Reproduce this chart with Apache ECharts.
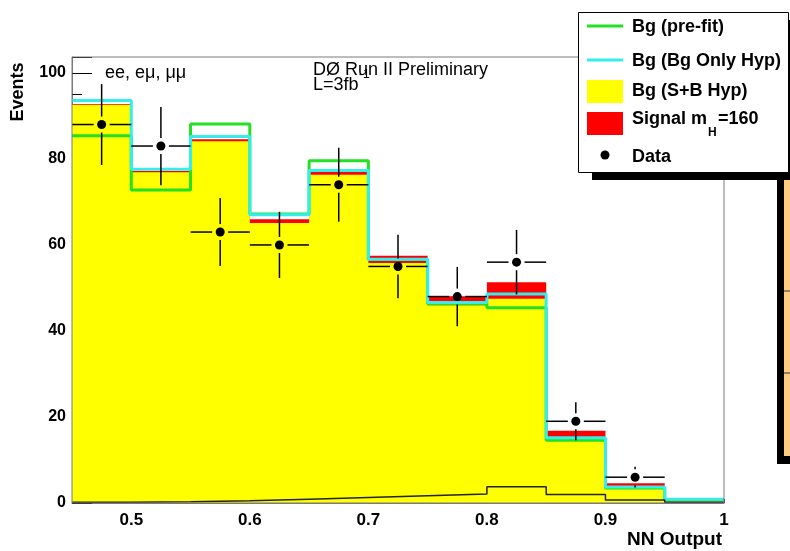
<!DOCTYPE html>
<html>
<head>
<meta charset="utf-8">
<script src="https://cdn.jsdelivr.net/npm/echarts@6/dist/echarts.min.js"></script>
<style>
html,body{margin:0;padding:0;background:#fff;}
#chart{width:790px;height:551px;}
</style>
</head>
<body>
<div id="chart"></div>
<script>
// ---- data ----
const binEdges = [0.45, 0.50, 0.55, 0.60, 0.65, 0.70, 0.75, 0.80, 0.85, 0.90, 0.95, 1.00];
const bgPrefit = [85.4, 72.8, 88.1, 67.2, 79.6, 56.6, 46.3, 45.4, 14.6, 3.5, 0.7];
const bgOnly   = [93.6, 77.6, 85.2, 67.0, 77.3, 56.7, 46.6, 48.6, 15.2, 3.7, 0.85];
const bgSB     = [92.6, 76.9, 84.1, 65.1, 76.3, 55.8, 46.0, 47.5, 14.8, 3.9, 0.5];
const signal   = [0.2, 0.3, 0.5, 0.9, 1.3, 1.7, 2.1, 3.8, 2.0, 0.7, 0.2];
const dataVals = [88, 83, 63, 60, 74, 55, 48, 56, 19, 6];
const dataErr  = [9.4, 9.1, 7.9, 7.7, 8.6, 7.4, 6.9, 7.5, 4.4, 2.4];
const yTicks   = [0, 20, 40, 60, 80, 100];
const xTicks   = ['0.5', '0.6', '0.7', '0.8', '0.9', '1'];
const legendLabels = ['Bg (pre-fit)', 'Bg (Bg Only Hyp)', 'Bg (S+B Hyp)', 'Signal m', 'Data'];

const FONT = 'Liberation Sans, Arial, Helvetica, sans-serif';

function stepData(vals) {
  const pts = vals.map((v, i) => [binEdges[i], v]);
  pts.push([binEdges[vals.length], vals[vals.length - 1]]);
  return pts;
}
const sigTop = bgSB.map((v, i) => v + signal[i]);

const chart = echarts.init(document.getElementById('chart'), null, {renderer: 'canvas'});

const option = {
  animation: false,
  backgroundColor: '#ffffff',
  grid: {
    left: 72, right: 66, top: 57, bottom: 48,
    show: true, borderColor: '#7a7a7a', borderWidth: 1,
    backgroundColor: 'transparent', z: 5
  },
  xAxis: {
    type: 'value', min: 0.45, max: 1.0, interval: 0.05,
    axisLine: {show: true, lineStyle: {color: '#7a7a7a', width: 1}},
    axisTick: {show: true, inside: true, length: 4, lineStyle: {color: '#333'}},
    splitLine: {show: false},
    axisLabel: {
      color: '#000', fontFamily: FONT, fontWeight: 'bold', fontSize: 17, margin: 9,
      showMinLabel: true, showMaxLabel: true,
      formatter: function (v) {
        const s = String(+(+v).toFixed(2));
        return xTicks.indexOf(s) >= 0 ? s : '';
      }
    }
  },
  yAxis: {
    type: 'value', min: 0, max: 103.7, interval: 20,
    axisLine: {show: true, lineStyle: {color: '#7a7a7a', width: 1}},
    axisTick: {show: true, inside: true, length: 20, lineStyle: {color: '#000'}},
    minorTick: {show: true, splitNumber: 4, length: 10, lineStyle: {color: '#000'}},
    splitLine: {show: false},
    axisLabel: {
      color: '#000', fontFamily: FONT, fontWeight: 'bold', fontSize: 16, margin: 6,
      formatter: function (v) {
        const r = Math.round(v);
        return (Math.abs(v - r) < 1e-6 && yTicks.indexOf(r) >= 0) ? String(r) : '';
      }
    }
  },
  series: [
    {
      name: 'Signal', type: 'line', step: 'end', data: stepData(sigTop),
      symbol: 'none', lineStyle: {width: 0, color: '#ff0000'},
      areaStyle: {color: '#ff0000', opacity: 1}, z: 2, silent: true
    },
    {
      name: 'Bg (S+B Hyp)', type: 'line', step: 'end', data: stepData(bgSB),
      symbol: 'none', lineStyle: {width: 0, color: '#ffff00'},
      areaStyle: {color: '#ffff00', opacity: 1}, z: 2, silent: true
    },
    {
      name: 'Bg (pre-fit)', type: 'line', step: 'end', data: stepData(bgPrefit),
      symbol: 'none', lineStyle: {width: 3, color: '#22e022'}, z: 3, silent: true
    },
    {
      name: 'Bg (Bg Only Hyp)', type: 'line', step: 'end', data: stepData(bgOnly),
      symbol: 'none', lineStyle: {width: 3, color: '#33eeee'}, z: 3, silent: true
    },
    {
      name: 'Signal line', type: 'line', step: 'end', data: stepData(signal),
      symbol: 'none', lineStyle: {width: 1.5, color: '#222'}, z: 3, silent: true
    },
    {
      name: 'Data', type: 'custom', z: 4, silent: true,
      data: dataVals.map((v, i) => [(binEdges[i] + binEdges[i + 1]) / 2, v, dataErr[i], i]),
      renderItem: function (params, api) {
        const x = api.value(0), y = api.value(1), e = api.value(2), i = api.value(3);
        const c = api.coord([x, y]);
        const l = api.coord([binEdges[i], y]);
        const r = api.coord([binEdges[i + 1], y]);
        const t = api.coord([x, y + e]);
        const b = api.coord([x, y - e]);
        const gap = 8;
        const st = {stroke: '#000', lineWidth: 1.5};
        return {
          type: 'group',
          children: [
            {type: 'line', shape: {x1: l[0], y1: c[1], x2: c[0] - gap, y2: c[1]}, style: st},
            {type: 'line', shape: {x1: c[0] + gap, y1: c[1], x2: r[0], y2: c[1]}, style: st},
            {type: 'line', shape: {x1: c[0], y1: t[1], x2: c[0], y2: c[1] - gap}, style: st},
            {type: 'line', shape: {x1: c[0], y1: c[1] + gap, x2: c[0], y2: b[1]}, style: st},
            {type: 'circle', shape: {cx: c[0], cy: c[1], r: 4.5}, style: {fill: '#000'}}
          ]
        };
      }
    }
  ],
  graphic: [
    // axis titles and annotations
    {type: 'text', x: 18, y: 92, rotation: Math.PI / 2, z: 10,
      style: {text: 'Events', fill: '#000', font: 'bold 18px ' + FONT, align: 'center', verticalAlign: 'middle'}},
    {type: 'text', x: 722, y: 540, z: 10,
      style: {text: 'NN Output', fill: '#000', font: 'bold 19px ' + FONT, align: 'right', verticalAlign: 'middle'}},
    {type: 'text', x: 105, y: 73, z: 10,
      style: {text: 'ee, eμ, μμ', fill: '#000', font: '18px ' + FONT, align: 'left', verticalAlign: 'middle'}},
    {type: 'text', x: 313, y: 70, z: 10,
      style: {text: 'DØ Run II Preliminary', fill: '#000', font: '18px ' + FONT, align: 'left', verticalAlign: 'middle'}},
    {type: 'text', x: 313, y: 85, z: 10,
      style: {text: 'L=3fb', fill: '#000', font: '18px ' + FONT, align: 'left', verticalAlign: 'middle'}},
    {type: 'text', x: 359, y: 75, z: 10,
      style: {text: '-1', fill: '#000', font: '12px ' + FONT, align: 'left', verticalAlign: 'middle'}},

    // right-edge partial box
    {type: 'rect', z: 20, shape: {x: 783, y: 142, width: 10, height: 316}, style: {fill: '#ffcc80'}},
    {type: 'rect', z: 21, shape: {x: 777, y: 141, width: 7, height: 323}, style: {fill: '#000'}},
    {type: 'rect', z: 21, shape: {x: 781, y: 140, width: 12, height: 4}, style: {fill: '#000'}},
    {type: 'rect', z: 21, shape: {x: 777, y: 456, width: 16, height: 8}, style: {fill: '#000'}},
    {type: 'line', z: 21, shape: {x1: 784, y1: 291, x2: 790, y2: 291}, style: {stroke: '#333', lineWidth: 1}},
    {type: 'line', z: 21, shape: {x1: 784, y1: 373, x2: 790, y2: 373}, style: {stroke: '#333', lineWidth: 1}},

    // legend
    {type: 'rect', z: 30, shape: {x: 592, y: 20, width: 210, height: 160}, style: {fill: '#000'}},
    {type: 'rect', z: 31, shape: {x: 578.5, y: 12.5, width: 210, height: 160}, style: {fill: '#fff', stroke: '#000', lineWidth: 1}},
    {type: 'line', z: 32, shape: {x1: 587, y1: 26, x2: 623, y2: 26}, style: {stroke: '#22e022', lineWidth: 3}},
    {type: 'line', z: 32, shape: {x1: 587, y1: 60, x2: 623, y2: 60}, style: {stroke: '#33eeee', lineWidth: 3}},
    {type: 'rect', z: 32, shape: {x: 587, y: 80, width: 36, height: 23}, style: {fill: '#ffff00'}},
    {type: 'rect', z: 32, shape: {x: 587, y: 112, width: 36, height: 23}, style: {fill: '#ff0000'}},
    {type: 'circle', z: 32, shape: {cx: 605, cy: 155, r: 4.5}, style: {fill: '#000'}},
    {type: 'text', z: 32, x: 632, y: 27, style: {text: legendLabels[0], fill: '#000', font: 'bold 18px ' + FONT, verticalAlign: 'middle'}},
    {type: 'text', z: 32, x: 632, y: 61, style: {text: legendLabels[1], fill: '#000', font: 'bold 18px ' + FONT, verticalAlign: 'middle'}},
    {type: 'text', z: 32, x: 632, y: 91, style: {text: legendLabels[2], fill: '#000', font: 'bold 18px ' + FONT, verticalAlign: 'middle'}},
    {type: 'text', z: 32, x: 632, y: 119, style: {text: legendLabels[3], fill: '#000', font: 'bold 18px ' + FONT, verticalAlign: 'middle'}},
    {type: 'text', z: 32, x: 708, y: 133, style: {text: 'H', fill: '#000', font: 'bold 12px ' + FONT, verticalAlign: 'middle'}},
    {type: 'text', z: 32, x: 718, y: 119, style: {text: '=160', fill: '#000', font: 'bold 18px ' + FONT, verticalAlign: 'middle'}},
    {type: 'text', z: 32, x: 632, y: 157, style: {text: legendLabels[4], fill: '#000', font: 'bold 18px ' + FONT, verticalAlign: 'middle'}}
  ]
};
chart.setOption(option);
</script>
</body>
</html>
